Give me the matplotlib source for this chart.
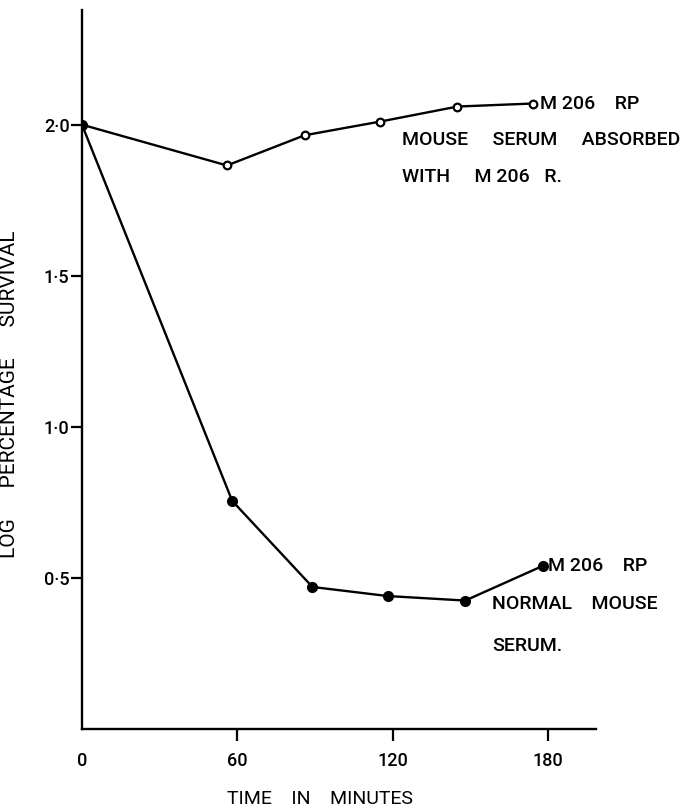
import matplotlib.pyplot as plt

# survival curves (minutes, log % survival)
absorbed_t = [0, 56, 86, 115, 145, 174]
absorbed_y = [2.0, 1.865, 1.965, 2.01, 2.06, 2.07]
normal_t = [0, 58, 89, 118, 148, 178]
normal_y = [2.0, 0.755, 0.47, 0.44, 0.425, 0.54]

x_ticks = [0, 60, 120, 180]
x_labels = ['0', '60', '120', '180']
y_ticks = [0.5, 1.0, 1.5, 2.0]
y_labels = ['0\u00b75', '1\u00b70', '1\u00b75', '2\u00b70']

plt.rcParams['font.family'] = ['Roboto', 'DejaVu Sans']
plt.rcParams['font.weight'] = 'medium'
fs = 14

fig = plt.figure(figsize=(6.9, 8.08), dpi=100)
ax = fig.add_axes([0.1188, 0.0978, 0.745, 0.89])

ax.plot(absorbed_t, absorbed_y, color='black', lw=1.7, marker='o', ms=5.5,
        mfc='white', mec='black', mew=1.6)
ax.plot(normal_t, normal_y, color='black', lw=1.7, marker='o', ms=7,
        mfc='black', mec='black')

ax.set_xlim(0, 198.5)
ax.set_ylim(0, 2.38)

for s in ['top', 'right']:
    ax.spines[s].set_visible(False)
for s in ['left', 'bottom']:
    ax.spines[s].set_linewidth(1.7)

ax.set_xticks(x_ticks)
ax.set_xticklabels(x_labels, fontsize=13)
ax.set_yticks(y_ticks)
ax.set_yticklabels(y_labels, fontsize=13)
ax.tick_params(axis='x', direction='out', length=8.5, width=1.6, pad=8)
ax.tick_params(axis='y', direction='out', length=8, width=1.6, pad=1)
ax.xaxis.get_major_ticks()[0].tick1line.set_visible(False)

ax.set_xlabel('TIME    IN    MINUTES', fontsize=fs)
ax.xaxis.set_label_coords(0.464, -0.085)
ax.set_ylabel('LOG      PERCENTAGE      SURVIVAL', fontsize=15)
ax.yaxis.set_label_coords(-0.122, 0.466)

# curve labels
ax.annotate('M 206    RP', xy=(absorbed_t[-1], absorbed_y[-1]), xytext=(5, 0),
            textcoords='offset points', fontsize=fs, va='center', ha='left')
ax.text(123.7, 1.95, 'MOUSE     SERUM     ABSORBED', fontsize=fs,
        va='center', ha='left')
ax.text(123.7, 1.828, 'WITH     M 206   R.', fontsize=fs, va='center', ha='left')

ax.annotate('M 206    RP', xy=(normal_t[-1], normal_y[-1]), xytext=(4, 0),
            textcoords='offset points', fontsize=fs, va='center', ha='left')
ax.text(158.3, 0.414, 'NORMAL    MOUSE', fontsize=fs, va='center', ha='left')
ax.text(158.3, 0.275, 'SERUM.', fontsize=fs, va='center', ha='left')

fig.savefig('out.png', dpi=100)
